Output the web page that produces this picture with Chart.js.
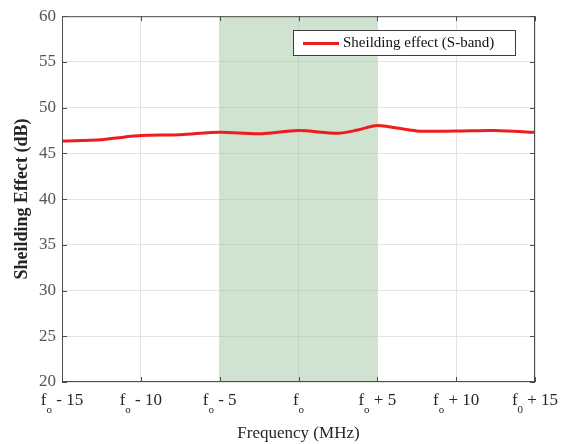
<!DOCTYPE html>
<html>
<head>
<meta charset="utf-8">
<script src="https://cdn.jsdelivr.net/npm/chart.js@4.4.1/dist/chart.umd.min.js"></script>
<style>
  html, body { margin: 0; padding: 0; background: #fff; }
  #wrap { width: 569px; height: 444px; }
</style>
</head>
<body>
<div id="wrap"><canvas id="c" width="569" height="444"></canvas></div>
<script>
// frequency offset from f0 (MHz) and shielding effect (dB)
const freqOffsets = [-15, -12.5, -11, -10, -7.5, -5, -2.5, 0, 2.5, 3.75, 5, 7.5, 10, 12.5, 15];
const shieldingDb = [46.35, 46.5, 46.8, 46.95, 47.05, 47.3, 47.15, 47.5, 47.2, 47.55, 48.05, 47.45, 47.45, 47.5, 47.3];
const xTicks = [-15, -10, -5, 0, 5, 10, 15];
const xTickLabels = ['- 15', '- 10', '- 5', '', '+ 5', '+ 10', '+ 15'];
const xTickSubs = ['o', 'o', 'o', 'o', 'o', 'o', '0'];
const bandRange = [-5, 5];
const seriesLabel = 'Sheilding effect (S-band)';

const serif = '"Liberation Serif", "Times New Roman", serif';

// green band, inward tick marks, frame, legend and subscripted x labels
const decorations = {
    id: 'decorations',
    beforeDatasetsDraw(chart) {
        const { ctx, chartArea: a, scales: { x } } = chart;
        const x0 = x.getPixelForValue(bandRange[0]);
        const x1 = x.getPixelForValue(bandRange[1]);
        ctx.save();
        ctx.fillStyle = 'rgba(150, 190, 150, 0.45)';
        ctx.fillRect(x0, a.top, x1 - x0, a.bottom - a.top);
        ctx.restore();
    },
    afterDraw(chart) {
        const { ctx, chartArea: a, scales: { x, y } } = chart;
        ctx.save();
        // frame
        ctx.strokeStyle = '#4d4d4d';
        ctx.lineWidth = 1;
        ctx.strokeRect(a.left + 0.5, a.top + 0.5, a.right - a.left - 1, a.bottom - a.top - 1);
        // inner ticks
        ctx.beginPath();
        xTicks.forEach(v => {
            const px = Math.round(x.getPixelForValue(v)) + 0.5;
            ctx.moveTo(px, a.bottom); ctx.lineTo(px, a.bottom - 5);
            ctx.moveTo(px, a.top); ctx.lineTo(px, a.top + 5);
        });
        for (let v = 20; v <= 60; v += 5) {
            const py = Math.round(y.getPixelForValue(v)) + 0.5;
            ctx.moveTo(a.left, py); ctx.lineTo(a.left + 5, py);
            ctx.moveTo(a.right, py); ctx.lineTo(a.right - 5, py);
        }
        ctx.stroke();

        // x tick labels: f with subscript
        ctx.fillStyle = '#262626';
        ctx.textBaseline = 'alphabetic';
        xTicks.forEach((v, i) => {
            const px = x.getPixelForValue(v);
            ctx.font = '17px ' + serif;
            const rest = xTickLabels[i];
            const fW = ctx.measureText('f').width;
            ctx.font = '11px ' + serif;
            const sW = ctx.measureText(xTickSubs[i]).width;
            ctx.font = '17px ' + serif;
            const rW = rest ? ctx.measureText(' ' + rest).width : 0;
            const total = fW + sW + rW;
            let cx = px - total / 2;
            if (v === 15) cx = Math.min(cx, 562 - total);
            ctx.textAlign = 'left';
            ctx.fillText('f', cx, a.bottom + 23);
            ctx.font = '11px ' + serif;
            ctx.fillText(xTickSubs[i], cx + fW, a.bottom + 31);
            if (rest) {
                ctx.font = '17px ' + serif;
                ctx.fillText(' ' + rest, cx + fW + sW, a.bottom + 23);
            }
        });

        // legend
        const lx = 293, ly = 30, lw = 222, lh = 25;
        ctx.fillStyle = '#ffffff';
        ctx.fillRect(lx, ly, lw, lh);
        ctx.strokeStyle = '#3c3c3c';
        ctx.lineWidth = 1;
        ctx.strokeRect(lx + 0.5, ly + 0.5, lw, lh);
        ctx.strokeStyle = '#ee1c1c';
        ctx.lineWidth = 3;
        ctx.beginPath();
        ctx.moveTo(lx + 10, ly + lh / 2 + 1);
        ctx.lineTo(lx + 46, ly + lh / 2 + 1);
        ctx.stroke();
        ctx.fillStyle = '#111';
        ctx.font = '15px ' + serif;
        ctx.textAlign = 'left';
        ctx.textBaseline = 'middle';
        ctx.fillText(seriesLabel, lx + 50, ly + lh / 2 + 1);
        ctx.restore();
    }
};

new Chart(document.getElementById('c'), {
    type: 'line',
    data: {
        datasets: [{
            label: seriesLabel,
            data: freqOffsets.map((f, i) => ({ x: f, y: shieldingDb[i] })),
            borderColor: '#ee1c1c',
            borderWidth: 3,
            pointRadius: 0,
            tension: 0.3
        }]
    },
    options: {
        responsive: false,
        animation: false,
        layout: { padding: { top: 16, right: 34, left: 0, bottom: 0 } },
        plugins: { legend: { display: false }, tooltip: { enabled: false } },
        scales: {
            x: {
                type: 'linear',
                min: -15,
                max: 15,
                afterBuildTicks: s => { s.ticks = xTicks.map(v => ({ value: v })); },
                afterFit: s => { s.height = 62; },
                grid: { color: '#e3e3e3', drawTicks: false },
                border: { display: false },
                ticks: { display: false },
                title: {
                    display: true,
                    text: 'Frequency (MHz)',
                    color: '#262626',
                    font: { family: serif, size: 17 },
                    padding: { top: 30, bottom: 0 }
                }
            },
            y: {
                min: 20,
                max: 60,
                afterFit: s => { s.width = 62; },
                grid: { color: '#e3e3e3', drawTicks: false },
                border: { display: false },
                ticks: {
                    stepSize: 5,
                    color: '#555555',
                    padding: 6,
                    font: { family: serif, size: 17 }
                },
                title: {
                    display: true,
                    text: 'Sheilding Effect (dB)',
                    color: '#262626',
                    font: { family: serif, size: 18, weight: 'bold' },
                    padding: { top: 12, bottom: 0 }
                }
            }
        }
    },
    plugins: [decorations]
});
</script>
</body>
</html>
